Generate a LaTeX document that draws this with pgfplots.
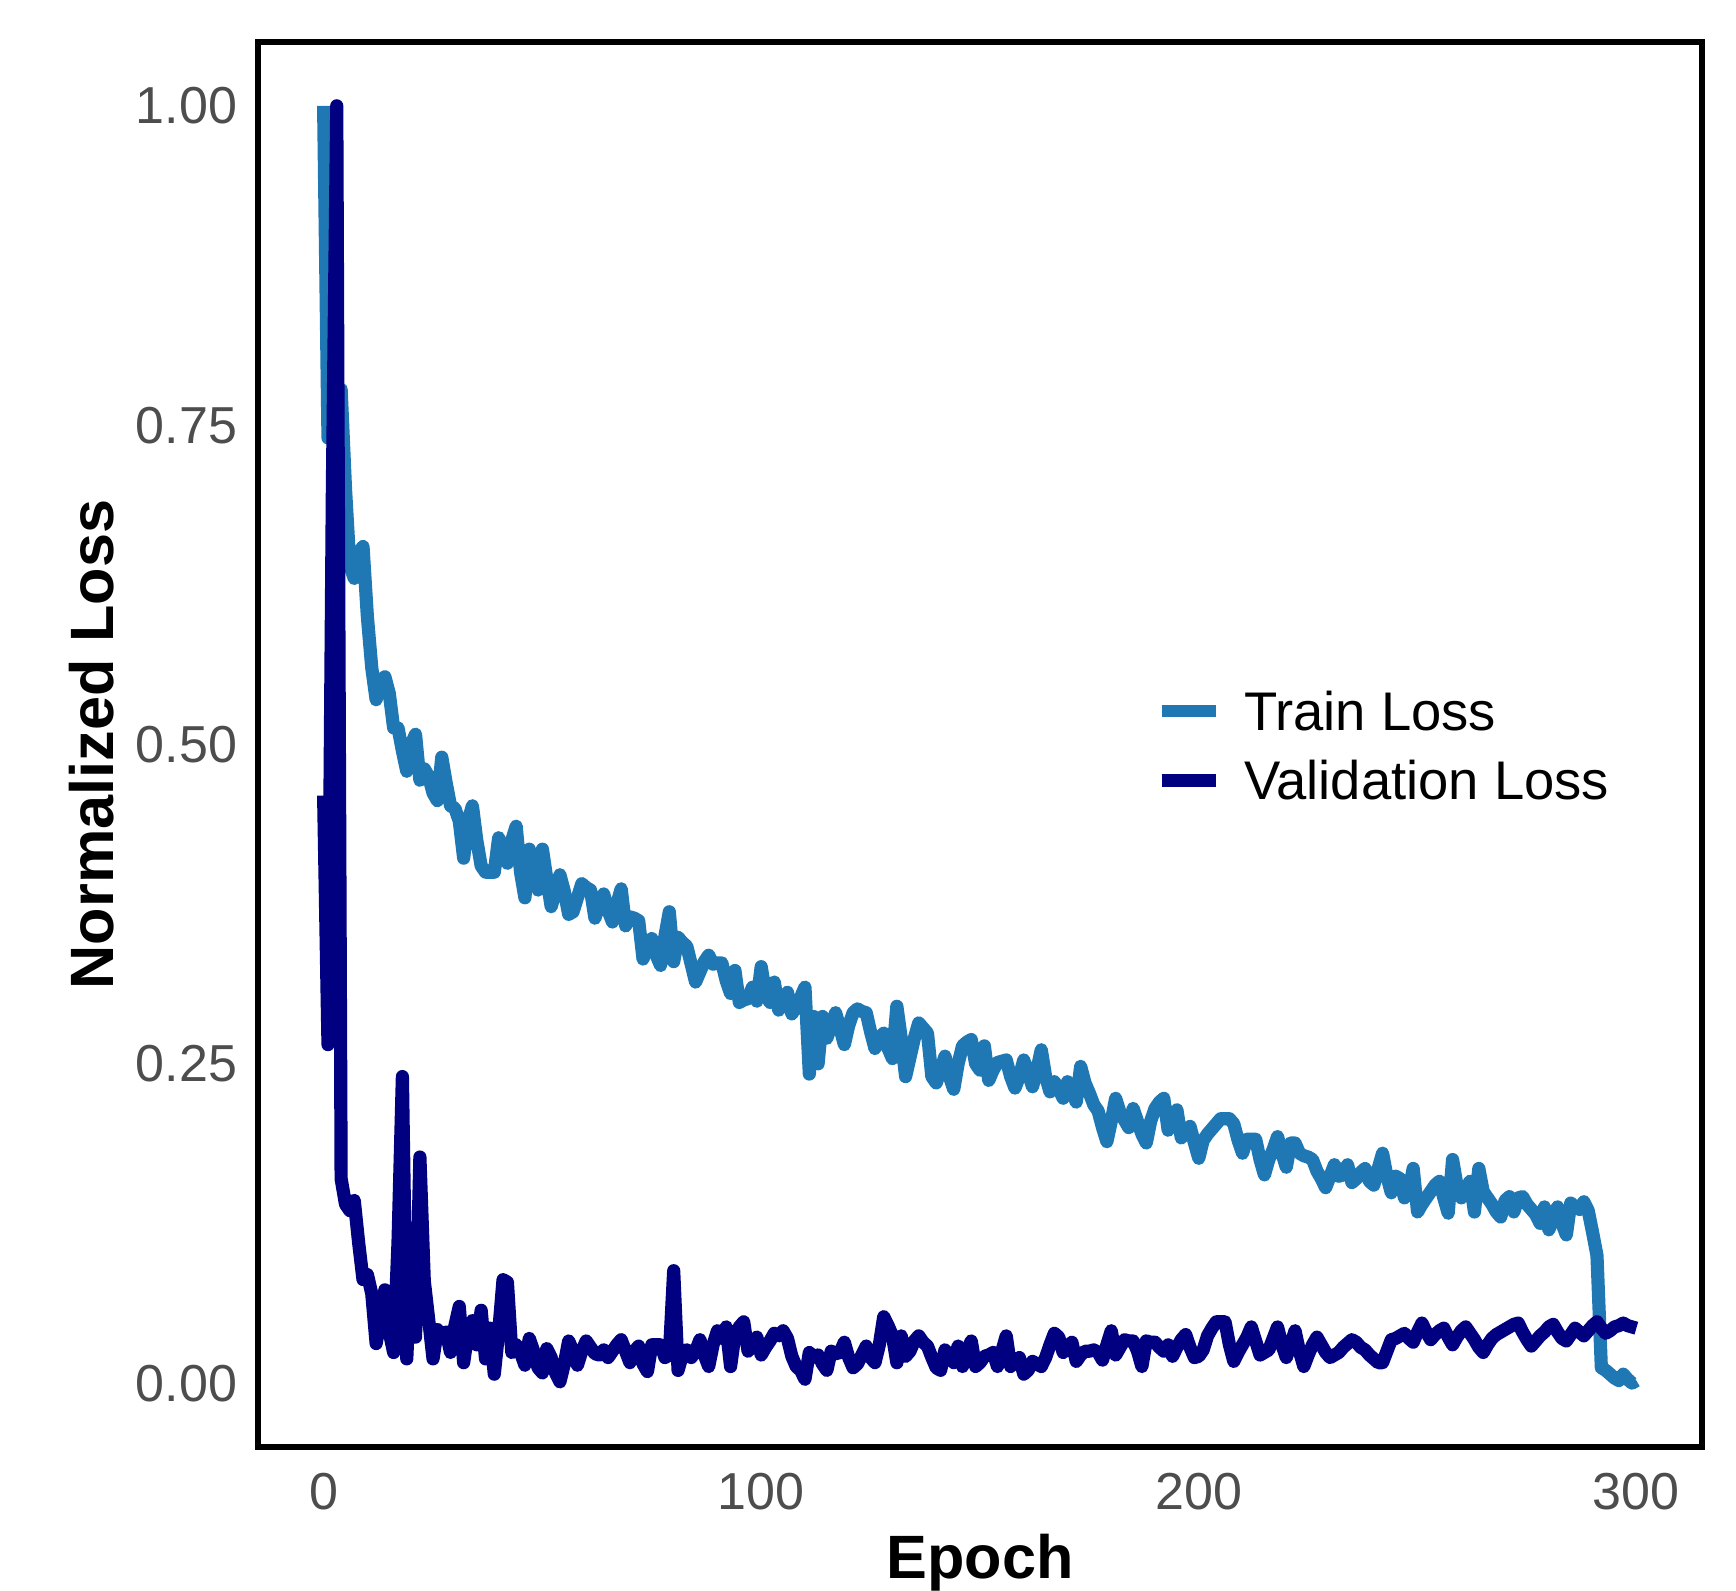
\documentclass[border=0pt]{standalone}
\usepackage{fontspec}
\setmainfont{Liberation Sans}
\usepackage{pgfplots}
\pgfplotsset{compat=1.18}
\usepackage{pgfplotstable}
\definecolor{trainc}{HTML}{1F78B4}
\definecolor{valc}{HTML}{000080}
\definecolor{tickgray}{HTML}{4D4D4D}

\pgfplotstableread{
x y
0 1.000
1 0.740
2 0.760
3 0.775
4 0.778
5 0.700
6 0.640
7 0.630
8 0.650
9 0.655
10 0.600
11 0.560
12 0.535
13 0.550
14 0.553
15 0.540
16 0.513
17 0.513
18 0.495
19 0.479
20 0.500
21 0.508
22 0.472
23 0.481
24 0.475
25 0.462
26 0.456
27 0.490
28 0.470
29 0.452
30 0.450
31 0.440
32 0.411
33 0.440
34 0.452
35 0.425
36 0.405
37 0.400
38 0.400
39 0.400
40 0.427
41 0.415
42 0.407
43 0.425
44 0.436
45 0.400
46 0.380
47 0.418
48 0.400
49 0.386
50 0.418
51 0.395
52 0.373
53 0.385
54 0.398
55 0.385
56 0.367
57 0.369
58 0.380
59 0.391
60 0.388
61 0.386
62 0.364
63 0.375
64 0.383
65 0.370
66 0.361
67 0.375
68 0.387
69 0.358
70 0.365
71 0.364
72 0.362
73 0.332
74 0.345
75 0.348
76 0.335
77 0.327
78 0.350
79 0.369
80 0.330
81 0.349
82 0.345
83 0.342
84 0.328
85 0.314
86 0.322
87 0.330
88 0.335
89 0.328
90 0.329
91 0.329
92 0.315
93 0.305
94 0.323
95 0.298
96 0.300
97 0.301
98 0.310
99 0.299
100 0.326
101 0.305
102 0.298
103 0.314
104 0.292
105 0.300
106 0.306
107 0.289
108 0.295
109 0.302
110 0.310
111 0.242
112 0.287
113 0.250
114 0.287
115 0.270
116 0.280
117 0.290
118 0.278
119 0.265
120 0.280
121 0.290
122 0.293
123 0.291
124 0.290
125 0.275
126 0.262
127 0.270
128 0.274
129 0.262
130 0.254
131 0.295
132 0.270
133 0.240
134 0.255
135 0.270
136 0.282
137 0.278
138 0.274
139 0.240
140 0.235
141 0.245
142 0.256
143 0.240
144 0.230
145 0.250
146 0.264
147 0.267
148 0.269
149 0.250
150 0.245
151 0.264
152 0.237
153 0.245
154 0.251
155 0.252
156 0.253
157 0.240
158 0.231
159 0.240
160 0.253
161 0.243
162 0.232
163 0.245
164 0.261
165 0.240
166 0.228
167 0.236
168 0.230
169 0.223
170 0.236
171 0.228
172 0.220
173 0.248
174 0.235
175 0.227
176 0.218
177 0.213
178 0.200
179 0.189
180 0.205
181 0.223
182 0.212
183 0.206
184 0.200
185 0.215
186 0.205
187 0.195
188 0.188
189 0.205
190 0.215
191 0.220
192 0.223
193 0.198
194 0.208
195 0.214
196 0.192
197 0.197
198 0.201
199 0.188
200 0.176
201 0.190
202 0.195
203 0.199
204 0.203
205 0.207
206 0.207
207 0.207
208 0.203
209 0.190
210 0.180
211 0.191
212 0.191
213 0.191
214 0.175
215 0.163
216 0.175
217 0.183
218 0.193
219 0.180
220 0.169
221 0.188
222 0.188
223 0.180
224 0.178
225 0.177
226 0.175
227 0.166
228 0.160
229 0.153
230 0.162
231 0.171
232 0.162
233 0.163
234 0.171
235 0.157
236 0.160
237 0.165
238 0.168
239 0.158
240 0.155
241 0.168
242 0.180
243 0.162
244 0.149
245 0.162
246 0.160
247 0.145
248 0.150
249 0.168
250 0.134
251 0.140
252 0.145
253 0.150
254 0.155
255 0.158
256 0.145
257 0.133
258 0.175
259 0.155
260 0.145
261 0.152
262 0.158
263 0.134
264 0.168
265 0.150
266 0.145
267 0.140
268 0.134
269 0.130
270 0.143
271 0.146
272 0.134
273 0.145
274 0.146
275 0.140
276 0.136
277 0.132
278 0.125
279 0.138
280 0.120
281 0.130
282 0.138
283 0.125
284 0.116
285 0.141
286 0.138
287 0.136
288 0.142
289 0.135
290 0.118
291 0.100
292 0.012
293 0.010
294 0.007
295 0.004
296 0.002
297 0.007
298 0.003
299 0.000
300 0.002
}\traintable

\pgfplotstableread{
x y
0 0.460
1 0.265
2 0.700
3 1.000
4 0.160
5 0.140
6 0.135
7 0.143
8 0.110
9 0.081
10 0.085
11 0.070
12 0.031
13 0.050
14 0.073
15 0.040
16 0.024
17 0.110
18 0.240
19 0.019
20 0.100
21 0.036
22 0.177
23 0.080
24 0.050
25 0.019
26 0.042
27 0.035
28 0.040
29 0.024
30 0.045
31 0.060
32 0.016
33 0.040
34 0.049
35 0.030
36 0.057
37 0.019
38 0.043
39 0.007
40 0.040
41 0.081
42 0.079
43 0.024
44 0.030
45 0.024
46 0.014
47 0.035
48 0.025
49 0.012
50 0.008
51 0.027
52 0.020
53 0.008
54 0.001
55 0.015
56 0.033
57 0.025
58 0.014
59 0.025
60 0.033
61 0.028
62 0.023
63 0.022
64 0.026
65 0.020
66 0.025
67 0.030
68 0.034
69 0.025
70 0.016
71 0.025
72 0.029
73 0.015
74 0.009
75 0.030
76 0.030
77 0.030
78 0.020
79 0.022
80 0.088
81 0.010
82 0.022
83 0.026
84 0.020
85 0.025
86 0.034
87 0.022
88 0.013
89 0.030
90 0.041
91 0.035
92 0.044
93 0.013
94 0.038
95 0.044
96 0.048
97 0.025
98 0.030
99 0.036
100 0.022
101 0.028
102 0.033
103 0.039
104 0.037
105 0.041
106 0.035
107 0.021
108 0.013
109 0.010
110 0.003
111 0.024
112 0.020
113 0.022
114 0.015
115 0.010
116 0.025
117 0.023
118 0.024
119 0.032
120 0.020
121 0.012
122 0.015
123 0.022
124 0.029
125 0.020
126 0.016
127 0.030
128 0.052
129 0.045
130 0.037
131 0.016
132 0.037
133 0.021
134 0.025
135 0.033
136 0.037
137 0.032
138 0.029
139 0.020
140 0.012
141 0.010
142 0.026
143 0.020
144 0.016
145 0.029
146 0.013
147 0.025
148 0.033
149 0.013
150 0.016
151 0.021
152 0.022
153 0.024
154 0.013
155 0.025
156 0.037
157 0.013
158 0.017
159 0.020
160 0.007
161 0.010
162 0.017
163 0.015
164 0.013
165 0.020
166 0.030
167 0.039
168 0.036
169 0.024
170 0.028
171 0.032
172 0.017
173 0.022
174 0.025
175 0.025
176 0.026
177 0.024
178 0.018
179 0.030
180 0.041
181 0.022
182 0.028
183 0.034
184 0.033
185 0.033
186 0.025
187 0.013
188 0.033
189 0.032
190 0.032
191 0.028
192 0.025
193 0.030
194 0.021
195 0.028
196 0.034
197 0.038
198 0.028
199 0.020
200 0.021
201 0.026
202 0.037
203 0.043
204 0.048
205 0.048
206 0.048
207 0.030
208 0.017
209 0.024
210 0.030
211 0.036
212 0.044
213 0.033
214 0.022
215 0.024
216 0.026
217 0.035
218 0.044
219 0.030
220 0.020
221 0.030
222 0.041
223 0.025
224 0.013
225 0.022
226 0.030
227 0.036
228 0.030
229 0.024
230 0.020
231 0.022
232 0.024
233 0.028
234 0.031
235 0.034
236 0.032
237 0.028
238 0.026
239 0.022
240 0.019
241 0.016
242 0.016
243 0.025
244 0.034
245 0.035
246 0.037
247 0.039
248 0.035
249 0.032
250 0.040
251 0.047
252 0.040
253 0.034
254 0.038
255 0.041
256 0.043
257 0.036
258 0.030
259 0.036
260 0.041
261 0.044
262 0.039
263 0.034
264 0.028
265 0.024
266 0.030
267 0.035
268 0.038
269 0.040
270 0.042
271 0.044
272 0.046
273 0.047
274 0.040
275 0.034
276 0.029
277 0.033
278 0.037
279 0.040
280 0.044
281 0.046
282 0.040
283 0.035
284 0.033
285 0.038
286 0.043
287 0.040
288 0.037
289 0.041
290 0.045
291 0.048
292 0.043
293 0.039
294 0.041
295 0.044
296 0.045
297 0.047
298 0.045
299 0.044
300 0.043
}\valtable

\begin{document}
\begin{tikzpicture}
\begin{axis}[
  name=ax,
  scale only axis,
  width=361pt, height=351.25pt,
  xmin=-15, xmax=315, ymin=-0.05, ymax=1.05,
  axis line style={line width=1.5pt, black},
  major tick length=0pt,
  xtick={0,100,200,300},
  xticklabels={0,100,200,300},
  ytick={0,0.25,0.5,0.75,1},
  yticklabels={0.00,0.25,0.50,0.75,1.00},
  /pgf/number format/assume math mode=true,
  tick label style={font=\fontsize{13}{15}\selectfont, text=tickgray},
  yticklabel style={anchor=east, inner sep=0pt, xshift=-5pt},
  xticklabel style={anchor=north, inner sep=0pt, yshift=-6.3pt},
  xlabel={Epoch},
  ylabel={Normalized Loss},
  xlabel style={font=\bfseries\fontsize{15.3}{18}\selectfont, at={(axis description cs:0.5,-0.0612)}, anchor=north, inner sep=0pt},
  ylabel style={font=\bfseries\fontsize{15.3}{18}\selectfont, at={(axis description cs:-0.1312,0.5)}, anchor=north, inner sep=0pt},
  legend style={at={(axis description cs:0.621,0.538)}, anchor=north west, draw=none, fill=none, inner sep=0pt,
    font=\fontsize{13.6}{16}\selectfont, row sep=7.6pt,
    nodes={inner sep=0pt, text height=9.7pt, text depth=0pt},
    /tikz/every odd column/.style={column sep=5.6pt}},
  legend cell align=left,
  legend image code/.code={\draw[#1, line width=3.1pt, line cap=butt] (0pt,0pt) -- (13.5pt,0pt);},
]
\addplot[color=trainc, line width=3.3pt, line join=round, line cap=butt] table[x=x, y=y] {\traintable};
\addlegendentry{Train Loss}
\addplot[color=valc, line width=3.3pt, line join=round, line cap=butt] table[x=x, y=y] {\valtable};
\addlegendentry{Validation Loss}
\end{axis}
\path ([shift={(-64.5pt,-35.75pt)}]ax.south west) rectangle ([shift={(8.5pt,10.5pt)}]ax.north east);
\end{tikzpicture}
\end{document}
